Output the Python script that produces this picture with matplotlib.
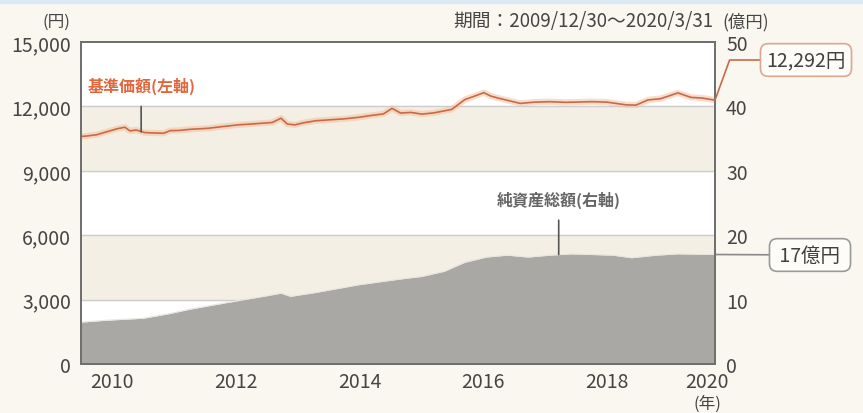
import matplotlib
matplotlib.use('Agg')
import matplotlib.pyplot as plt
import matplotlib.dates as mdates
import pandas as pd
import numpy as np

plt.rcParams['font.family'] = ['Noto Sans CJK JP', 'DejaVu Sans']

# 基準価額 (円, left axis)
nav_dates = ['2009-12-30', '2010-02-01', '2010-04-01', '2010-06-01', '2010-08-01',
             '2010-09-15', '2010-10-15', '2010-11-20', '2011-01-10', '2011-03-15',
             '2011-05-01', '2011-06-10', '2011-08-01', '2011-10-01', '2012-01-20',
             '2012-04-01', '2012-07-15', '2012-10-01', '2013-02-01', '2013-03-25',
             '2013-05-01', '2013-06-15', '2013-08-01', '2013-10-15', '2014-01-15',
             '2014-04-01', '2014-06-25', '2014-09-01', '2014-11-20', '2015-01-10',
             '2015-03-01', '2015-05-01', '2015-07-05', '2015-09-15', '2015-12-28',
             '2016-03-15', '2016-05-01', '2016-07-05', '2016-08-15', '2016-10-01',
             '2017-02-05', '2017-05-01', '2017-07-30', '2017-11-01', '2018-04-05',
             '2018-07-01', '2018-10-25', '2018-12-20', '2019-03-01', '2019-05-15',
             '2019-08-25', '2019-11-10', '2020-01-15', '2020-03-31']
nav_values = [10600, 10620, 10680, 10820, 10960,
              11030, 10860, 10900, 10780, 10760,
              10750, 10870, 10880, 10930, 10980,
              11050, 11140, 11180, 11250, 11450,
              11180, 11140, 11230, 11330, 11380,
              11420, 11490, 11570, 11650, 11910,
              11690, 11720, 11640, 11700, 11860,
              12320, 12450, 12640, 12480, 12380,
              12140, 12200, 12220, 12190, 12220,
              12200, 12070, 12060, 12300, 12360,
              12630, 12420, 12390, 12292]

# 純資産総額 (億円, right axis)
aum_dates = ['2009-12-30', '2010-06-01', '2011-01-01', '2011-06-01', '2011-10-01',
             '2012-05-01', '2013-01-01', '2013-03-25', '2013-05-20', '2013-10-15',
             '2014-06-25', '2015-03-01', '2015-07-05', '2015-11-15', '2016-03-15',
             '2016-07-20', '2016-11-20', '2017-03-25', '2017-07-30', '2017-12-05',
             '2018-08-05', '2018-11-25', '2019-04-20', '2019-08-25', '2020-03-31']
aum_values = [6.5, 6.8, 7.1, 7.8, 8.5,
              9.5, 10.6, 11.0, 10.5, 11.1,
              12.3, 13.2, 13.6, 14.4, 15.8,
              16.6, 16.9, 16.6, 16.9, 17.1,
              16.9, 16.5, 16.9, 17.1, 17.0]

left_ticks = [0, 3000, 6000, 9000, 12000, 15000]
right_ticks = [0, 10, 20, 30, 40, 50]
year_labels = ['2010', '2012', '2014', '2016', '2018', '2020']
label_pos = ['2010-07-01', '2012-07-01', '2014-07-01', '2016-07-01', '2018-07-01', '2020-02-10']

nav_x = pd.to_datetime(nav_dates)
aum_x = pd.to_datetime(aum_dates)

bg = '#faf7f0'
band = '#f3efe5'
txt = '#454545'

fig = plt.figure(figsize=(8.63, 4.14), dpi=100, facecolor=bg)
fig.patches.append(plt.Rectangle((0, 0.99), 1, 0.01, transform=fig.transFigure,
                                 color='#dce8f3', zorder=0))

ax2 = fig.add_axes([0.0939, 0.1184, 0.7346, 0.7777])
ax = ax2.twinx()
ax.set_zorder(ax2.get_zorder() + 1)
ax.patch.set_visible(False)

# yen scale on the left, 億円 scale on the right
ax.yaxis.tick_left()
ax.yaxis.set_label_position('left')
ax2.yaxis.tick_right()

ax2.set_facecolor('white')
ax2.set_ylim(0, 50)
ax.set_ylim(0, 15000)
ax2.set_xlim(pd.Timestamp('2009-12-30'), pd.Timestamp('2020-03-31'))

ax2.axhspan(30, 40, color=band, zorder=0)
ax2.axhspan(10, 20, color=band, zorder=0)
for v in right_ticks[1:-1]:
    ax2.axhline(v, color='#cdcdcd', lw=1, zorder=1)

ax2.fill_between(aum_x, 0, aum_values, color='#aaa8a5', lw=0, zorder=2)
ax2.plot(aum_x, aum_values, color='#e8e6e0', lw=0.8, zorder=2)

ax.plot(nav_x, nav_values, color='#f6c6a6', lw=4.5, alpha=0.6, solid_capstyle='round')
ax.plot(nav_x, nav_values, color='#c8694a', lw=1.2)

ax.set_yticks(left_ticks)
ax.set_yticklabels([f'{v:,}' for v in left_ticks])
ax2.set_yticks(right_ticks)
ax.tick_params(axis='y', length=0, pad=7, labelsize=14, labelcolor=txt)
ax2.tick_params(axis='y', length=0, pad=8, labelsize=14, labelcolor=txt)

ax2.xaxis.set_major_locator(mdates.YearLocator())
ax2.xaxis.set_major_formatter(plt.NullFormatter())
ax2.tick_params(axis='x', which='major', direction='in', length=5, color='#666666', width=1.2)
ax2.set_xticks(pd.to_datetime(label_pos), minor=True)
ax2.set_xticklabels(year_labels, minor=True)
ax2.tick_params(axis='x', which='minor', length=0, pad=5, labelsize=14, labelcolor=txt)

for a in (ax, ax2):
    for s in a.spines.values():
        s.set_color('#707070')
        s.set_linewidth(1.4)

# labels inside the plot
ax.annotate('基準価額(左軸)', xy=(pd.Timestamp('2010-12-20'), 10820),
            xytext=(pd.Timestamp('2010-12-20'), 12980),
            ha='center', va='center', fontsize=11.5, fontweight='bold', color='#e0663d',
            arrowprops=dict(arrowstyle='-', color='#555555', lw=1.2, shrinkA=7, shrinkB=0))
ax2.annotate('純資産総額(右軸)', xy=(pd.Timestamp('2017-09-20'), 17.0),
             xytext=(pd.Timestamp('2017-09-20'), 25.6),
             ha='center', va='center', fontsize=11.5, fontweight='bold', color='#666666',
             arrowprops=dict(arrowstyle='-', color='#555555', lw=1.2, shrinkA=7, shrinkB=0))

# callouts for latest values
ax.annotate(f'{nav_values[-1]:,}円', xy=(nav_x[-1], nav_values[-1]),
            xytext=(806, 414 - 61), textcoords='figure pixels',
            ha='center', va='center', fontsize=14, color='#404040', annotation_clip=False,
            bbox=dict(boxstyle='round,pad=0.3,rounding_size=0.4', fc='#fefcf8', ec='#d8a890', lw=1.2),
            arrowprops=dict(arrowstyle='-', color='#c8694a', lw=1.2, shrinkA=0, shrinkB=0,
                            connectionstyle='angle,angleA=0,angleB=70,rad=0'))
ax2.annotate(f'{aum_values[-1]:.0f}億円', xy=(aum_x[-1], aum_values[-1]),
             xytext=(810, 414 - 256), textcoords='figure pixels',
             ha='center', va='center', fontsize=14, color='#404040', annotation_clip=False,
             bbox=dict(boxstyle='round,pad=0.3,rounding_size=0.4', fc='#fefcf8', ec='#9a9a9a', lw=1.2),
             arrowprops=dict(arrowstyle='-', color='#8a8a8a', lw=1.2, shrinkA=0, shrinkB=0))
# widen the 17億円 box like the reference
ax2.texts[-1].get_bbox_patch().set_boxstyle('round,pad=0.3,rounding_size=0.4')
ax2.texts[-1].set_text(f' {aum_values[-1]:.0f}億円 ')

fig.text(56 / 863, 1 - 22 / 414, '(円)', ha='center', va='center', fontsize=12, color=txt)
fig.text(713 / 863, 1 - 22 / 414, '期間：2009/12/30～2020/3/31', ha='right', va='center',
         fontsize=13.5, color=txt)
fig.text(746 / 863, 1 - 22 / 414, '(億円)', ha='center', va='center', fontsize=12.5, color=txt)
fig.text(707 / 863, 1 - 404 / 414, '(年)', ha='center', va='center', fontsize=12, color=txt)

fig.savefig('out.png', dpi=100, facecolor=bg)
